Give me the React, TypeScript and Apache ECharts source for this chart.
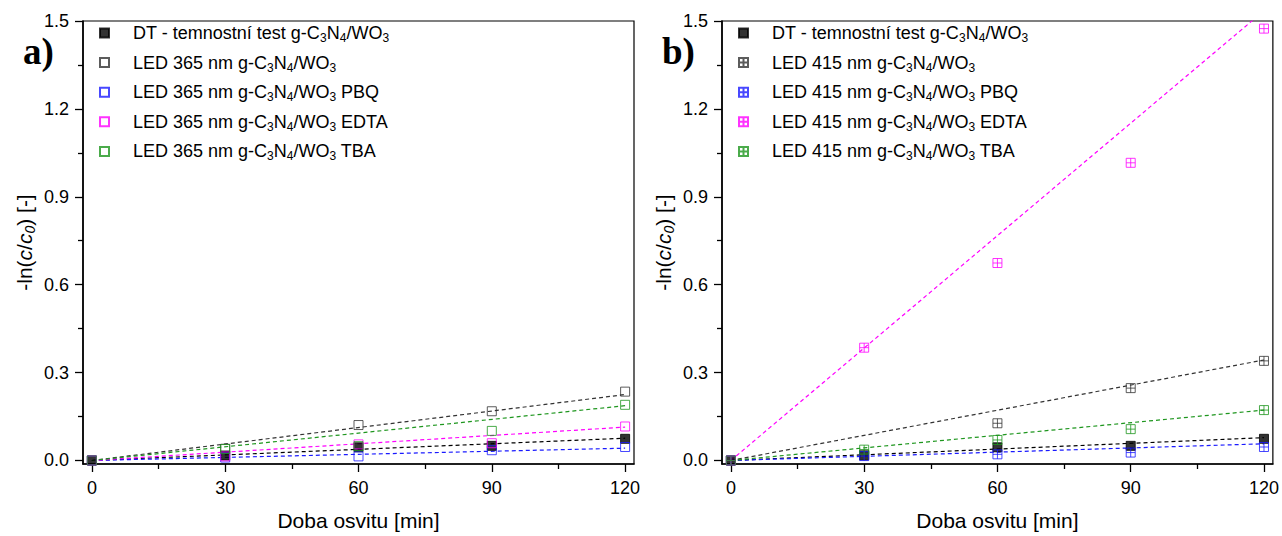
import React, { useEffect, useRef } from "react";
import * as echarts from "echarts";

const times = [0, 30, 60, 90, 120];
const fitX = [0, 120];

const namesA = [
  "DT - temnostní test g-C3N4/WO3",
  "LED 365 nm g-C3N4/WO3",
  "LED 365 nm g-C3N4/WO3 PBQ",
  "LED 365 nm g-C3N4/WO3 EDTA",
  "LED 365 nm g-C3N4/WO3 TBA",
];
const namesB = [
  "DT - temnostní test g-C3N4/WO3",
  "LED 415 nm g-C3N4/WO3",
  "LED 415 nm g-C3N4/WO3 PBQ",
  "LED 415 nm g-C3N4/WO3 EDTA",
  "LED 415 nm g-C3N4/WO3 TBA",
];

// panel a (LED 365 nm)
const dtA = [0, 0.017, 0.045, 0.05, 0.074];
const ledA = [0, 0.04, 0.121, 0.168, 0.235];
const pbqA = [0, 0.01, 0.014, 0.035, 0.046];
const edtaA = [0, 0.014, 0.055, 0.059, 0.116];
const tbaA = [0, 0.039, 0.049, 0.101, 0.19];
const fitEndA = [0.076, 0.225, 0.042, 0.114, 0.187];

// panel b (LED 415 nm)
const dtB = [0, 0.017, 0.045, 0.05, 0.074];
const ledB = [0, 0.02, 0.127, 0.247, 0.34];
const pbqB = [0, 0.015, 0.021, 0.027, 0.046];
const edtaB = [0, 0.385, 0.674, 1.016, 1.474];
const tbaB = [0, 0.037, 0.07, 0.107, 0.172];
const fitEndB = [0.078, 0.343, 0.057, 1.535, 0.172];

const xMajor = [0, 30, 60, 90, 120];
const xMinor = [15, 45, 75, 105];
const yMajor = [0, 0.3, 0.6, 0.9, 1.2, 1.5];
const yMinor = [0.15, 0.45, 0.75, 1.05, 1.35];

const colors = ["#000000", "#333333", "#1a1aff", "#ff00ff", "#1e961e"];
const FONT = '"Liberation Sans", Arial, sans-serif';
const CROSS = "path://M0,0L10,0L10,10L0,10ZM5,0L5,10M0,5L10,5";

function richName(name: string): string {
  const key = "g-C3N4/WO3";
  const i = name.indexOf(key);
  const before = name.slice(0, i);
  const after = name.slice(i + key.length);
  let s = `{n|${before}g-C}{s|3}{n|N}{s|4}{n|/WO}{s|3}`;
  if (after) s += `{n|${after}}`;
  return s;
}

const legendRich = {
  n: { fontSize: 18, fontFamily: FONT, color: "#000", lineHeight: 22 },
  s: { fontSize: 12, fontFamily: FONT, color: "#000", lineHeight: 11, verticalAlign: "bottom" },
};

function xAxes(grid: number) {
  const common = { type: "value", gridIndex: grid, min: -2, max: 122, position: "bottom", splitLine: { show: false } };
  return [
    {
      ...common,
      axisLine: { show: true, onZero: false, lineStyle: { color: "#000", width: 1.6 } },
      axisTick: { show: true, customValues: xMajor, length: 8, lineStyle: { color: "#000", width: 1.3 } },
      axisLabel: { customValues: xMajor, color: "#000", fontSize: 18, fontFamily: FONT, margin: 15 },
      name: "Doba osvitu [min]",
      nameLocation: "middle",
      nameGap: 46,
      nameTextStyle: { fontSize: 21, color: "#000", fontFamily: FONT },
    },
    {
      ...common,
      axisLine: { show: false, onZero: false },
      axisTick: { show: true, customValues: xMinor, length: 5, lineStyle: { color: "#000", width: 1.3 } },
      axisLabel: { show: false },
    },
  ];
}

function yAxes(grid: number) {
  const common = { type: "value", gridIndex: grid, min: -0.012, max: 1.5, position: "left", splitLine: { show: false } };
  return [
    {
      ...common,
      axisLine: { show: true, onZero: false, lineStyle: { color: "#000", width: 1.6 } },
      axisTick: { show: true, customValues: yMajor, length: 8, lineStyle: { color: "#000", width: 1.3 } },
      axisLabel: {
        customValues: yMajor,
        color: "#000",
        fontSize: 18,
        fontFamily: FONT,
        margin: 14,
        formatter: (v: number) => v.toFixed(1),
      },
      name: "{t|-ln(}{i|c}{t|/}{i|c}{si|0}{t|) [-]}",
      nameLocation: "middle",
      nameRotate: 90,
      nameGap: 46,
      nameTextStyle: {
        rich: {
          t: { fontSize: 21, fontFamily: FONT, color: "#000", lineHeight: 25 },
          i: { fontSize: 21, fontFamily: FONT, color: "#000", fontStyle: "italic", lineHeight: 25 },
          si: { fontSize: 14, fontFamily: FONT, color: "#000", fontStyle: "italic", lineHeight: 12, verticalAlign: "bottom" },
        },
      },
    },
    {
      ...common,
      axisLine: { show: false, onZero: false },
      axisTick: { show: true, customValues: yMinor, length: 5, lineStyle: { color: "#000", width: 1.3 } },
      axisLabel: { show: false },
    },
  ];
}

function panelSeries(
  names: string[],
  data: number[][],
  fitEnds: number[],
  axisBase: number,
  symbol: string
) {
  const lines = names.map((n, k) => ({
    type: "line",
    name: "fit-" + k + "-" + axisBase,
    xAxisIndex: axisBase,
    yAxisIndex: axisBase,
    data: fitX.map((x, j) => [x, j === 0 ? 0 : fitEnds[k]]),
    showSymbol: false,
    symbol: "none",
    lineStyle: { color: colors[k], width: 1.2, type: [4, 3] },
    silent: true,
    z: 2,
  }));
  const pts = names.map((n, k) => ({
    type: "scatter",
    name: n,
    xAxisIndex: axisBase,
    yAxisIndex: axisBase,
    data: times.map((t, j) => [t, data[k][j]]),
    symbol: k === 0 ? "rect" : symbol,
    symbolSize: 9,
    itemStyle:
      k === 0
        ? { color: "#000", borderColor: "#000", borderWidth: 1 }
        : { color: "rgba(0,0,0,0)", borderColor: colors[k], borderWidth: 1 },
    z: 3 + k,
  }));
  return [...lines, ...pts];
}

function legend(names: string[], left: number) {
  return {
    orient: "vertical",
    left,
    top: 24,
    padding: 0,
    itemWidth: 9,
    itemHeight: 9,
    itemGap: 9.6,
    selectedMode: false,
    data: names,
    formatter: (name: string) => richName(name),
    textStyle: { padding: [0, 0, 0, 19], rich: legendRich },
  };
}

export default function App() {
  const ref = useRef<HTMLDivElement>(null);
  useEffect(() => {
    if (!ref.current) return;
    const chart = echarts.init(ref.current, null, { renderer: "svg" });
    const option = {
      animation: false,
      backgroundColor: "#fff",
      grid: [
        { left: 83, top: 21, width: 551, height: 446, show: true, borderColor: "#000", borderWidth: 1.2 },
        { left: 722, top: 21, width: 554, height: 446, show: true, borderColor: "#000", borderWidth: 1.2 },
      ],
      xAxis: [...xAxes(0), ...xAxes(1)],
      yAxis: [...yAxes(0), ...yAxes(1)],
      legend: [legend(namesA, 99), legend(namesB, 738)],
      graphic: [
        { type: "text", left: 23, top: 33, style: { text: "a)", font: 'bold 37px "Liberation Serif", "Times New Roman", serif', fill: "#000" } },
        { type: "text", left: 662, top: 33, style: { text: "b)", font: 'bold 37px "Liberation Serif", "Times New Roman", serif', fill: "#000" } },
      ],
      series: [
        ...panelSeries(namesA, [dtA, ledA, pbqA, edtaA, tbaA], fitEndA, 0, "rect"),
        ...panelSeries(namesB, [dtB, ledB, pbqB, edtaB, tbaB], fitEndB, 2, CROSS),
      ],
    };
    chart.setOption(option as any);
    return () => chart.dispose();
  }, []);
  return <div ref={ref} style={{ position: "fixed", left: 0, top: 0, width: 1282, height: 536 }} />;
}
